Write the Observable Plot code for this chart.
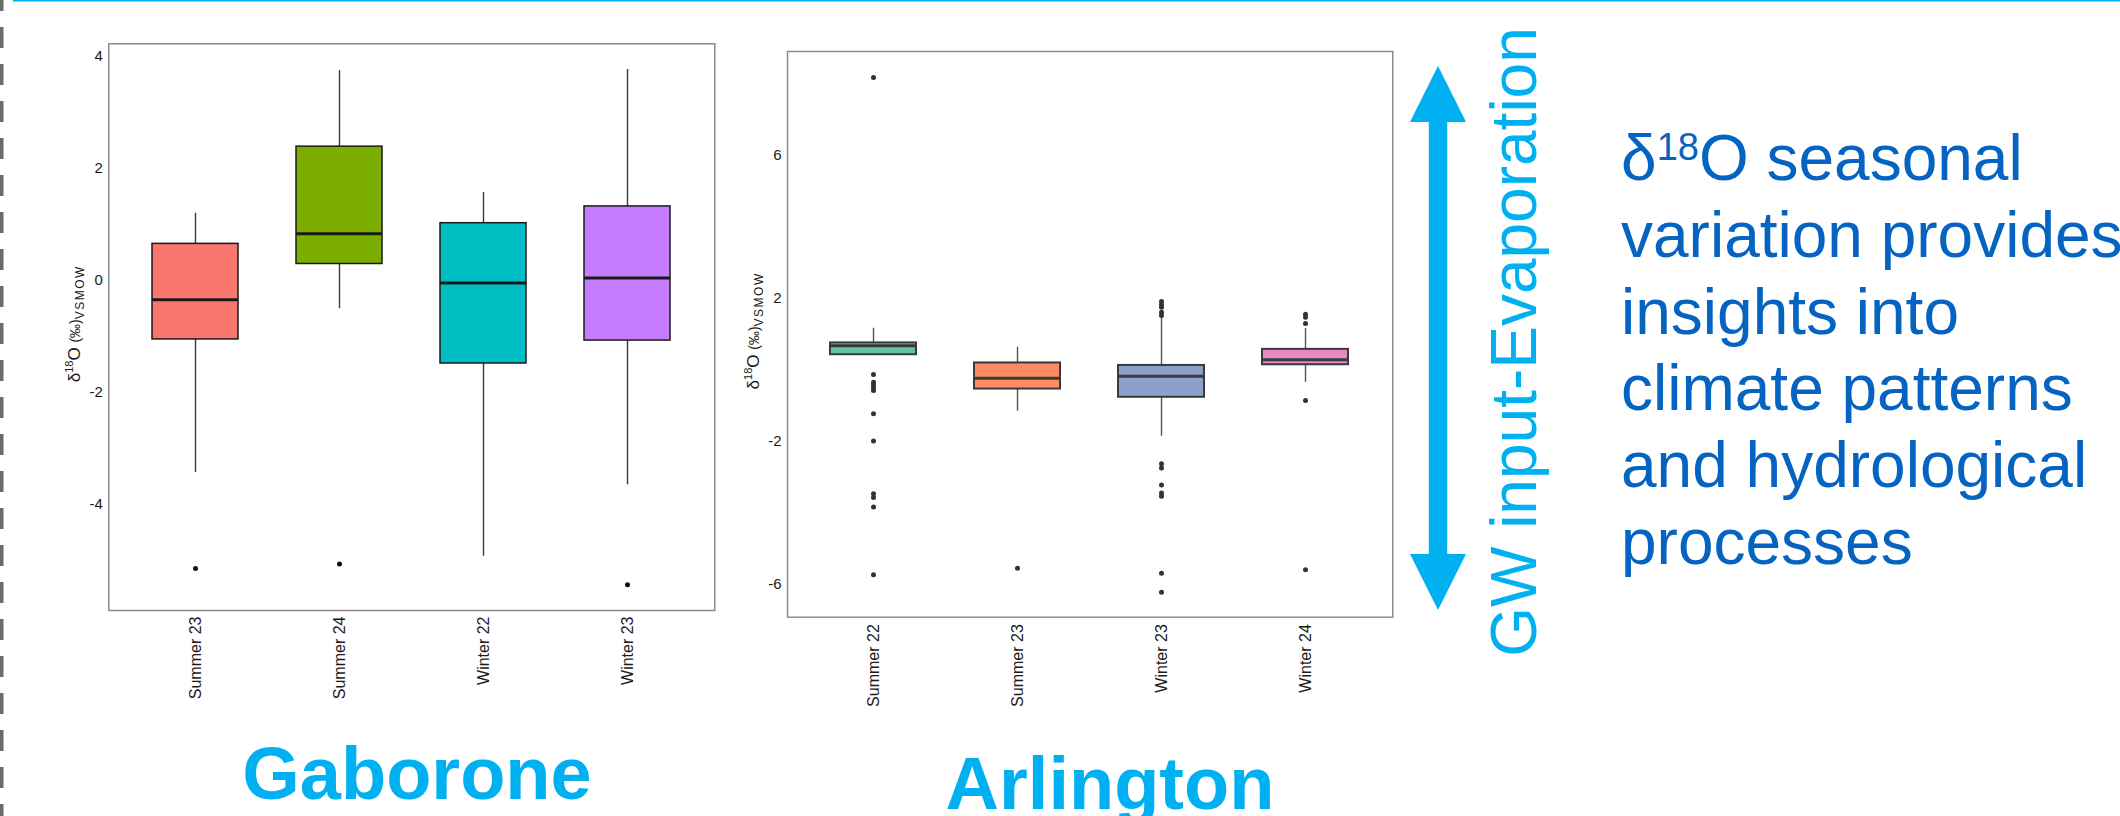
<!DOCTYPE html>
<html>
<head>
<meta charset="utf-8">
<script src="https://cdn.jsdelivr.net/npm/d3@7"></script>
<script src="https://cdn.jsdelivr.net/npm/@observablehq/plot@0.6"></script>
<style>
  html, body { margin: 0; padding: 0; background: #fff; }
  #page { position: relative; width: 2120px; height: 816px; overflow: hidden; background: #fff;
          font-family: 'Liberation Sans', Arial, Helvetica, sans-serif; }
  .panel { position: absolute; top: 0; }
  #overlay { position: absolute; left: 0; top: 0; pointer-events: none; }
</style>
</head>
<body>
<div id="page">
  <div id="gab" class="panel" style="left:0px"></div>
  <div id="arl" class="panel" style="left:730px"></div>
  <svg id="overlay" width="2120" height="816"></svg>
</div>
<script>
// ---- Gaborone: δ18O box summaries per season ----
const gabSeasons  = ["Summer 23", "Summer 24", "Winter 22", "Winter 23"];
const gabLow      = [-3.44, -0.51, -4.94, -3.66];
const gabQ1       = [-1.06,  0.29, -1.49, -1.08];
const gabMedian   = [-0.35,  0.83, -0.05,  0.04];
const gabQ3       = [ 0.65,  2.39,  1.02,  1.32];
const gabHigh     = [ 1.20,  3.75,  1.57,  3.77];
const gabOutliers = [[-5.16], [-5.08], [], [-5.45]];
const gabColors   = ["#F8766D", "#7CAE00", "#00BFC4", "#C77CFF"];
const gabTicks    = [-4, -2, 0, 2, 4];

// ---- Arlington: δ18O box summaries per season ----
const arlSeasons  = ["Summer 22", "Summer 23", "Winter 23", "Winter 24"];
const arlLow      = [ 0.41, -1.15, -1.85, -0.34];
const arlQ1       = [ 0.43, -0.53, -0.76,  0.15];
const arlMedian   = [ 0.68, -0.23, -0.17,  0.29];
const arlQ3       = [ 0.76,  0.20,  0.13,  0.58];
const arlHigh     = [ 1.17,  0.64,  1.48,  1.16];
const arlOutliers = [
  [8.18, -0.12, -0.34, -0.41, -0.49, -0.57, -1.22, -1.98, -3.46, -3.56, -3.83, -5.72],
  [-5.54],
  [1.92, 1.83, 1.76, 1.62, 1.53, -2.62, -2.74, -3.21, -3.44, -3.53, -5.68, -6.21],
  [1.56, 1.48, 1.30, -0.85, -5.58]
];
const arlColors   = ["#66C2A5", "#FC8D62", "#8DA0CB", "#E78AC3"];
const arlTicks    = [-6, -2, 2, 6];

const FONT = "'Liberation Sans', Arial, Helvetica, sans-serif";

function boxPanel(o) {
  const boxes = o.cats.map((c, i) => ({cat: c, lo: o.lo[i], q1: o.q1[i], med: o.med[i], q3: o.q3[i], hi: o.hi[i]}));
  const pts = o.cats.flatMap((c, i) => o.outliers[i].map(v => ({cat: c, v})));
  const chart = Plot.plot({
    width: o.width, height: o.height,
    marginLeft: o.ml, marginRight: o.mr, marginTop: o.mt, marginBottom: o.mb,
    style: {background: "transparent", fontFamily: FONT, color: "#1a1a1a", overflow: "visible"},
    x: {domain: o.cats, paddingInner: 0.4, paddingOuter: 0.3, label: null},
    y: {domain: o.domain, label: null},
    color: {domain: o.cats, range: o.colors},
    marks: [
      Plot.ruleX(boxes, {x: "cat", y1: "lo", y2: "hi", stroke: o.whisker, strokeWidth: 1.4}),
      Plot.barY(boxes, {x: "cat", y1: "q1", y2: "q3", fill: "cat", stroke: o.boxStroke, strokeWidth: o.boxWidth}),
      Plot.tickY(boxes, {x: "cat", y: "med", stroke: o.boxStroke, strokeWidth: 3}),
      Plot.dot(pts, {x: "cat", y: "v", r: 2.5, fill: o.dotFill, stroke: null}),
      Plot.frame({stroke: "#8c8c8c", strokeWidth: 1.5}),
      Plot.axisY({ticks: o.ticks, tickSize: 0, tickPadding: 6, fontSize: 15, tickFormat: d => String(d)}),
      Plot.axisX({tickSize: 0, tickPadding: o.xpad, tickRotate: -90, fontSize: 16})
    ]
  });
  // y-axis title: δ18O (‰)VSMOW with superscript and subscript
  const cy = (o.mt + (o.height - o.mb)) / 2 - 3;
  const t = d3.select(chart).append("text")
    .attr("transform", `translate(${o.ml - 28},${cy}) rotate(-90)`)
    .attr("text-anchor", "middle")
    .attr("font-family", FONT)
    .attr("fill", "#1a1a1a")
    .attr("font-size", 17);
  t.append("tspan").text("δ");
  t.append("tspan").attr("font-size", 11).attr("dy", -7).text("18");
  t.append("tspan").attr("dy", 7).text("O ");
  t.append("tspan").attr("font-size", 14).text("(‰)");
  t.append("tspan").attr("font-size", 12).attr("dy", 4).attr("letter-spacing", 1.5).text("VSMOW");
  return chart;
}

document.getElementById("gab").append(boxPanel({
  cats: gabSeasons, lo: gabLow, q1: gabQ1, med: gabMedian, q3: gabQ3, hi: gabHigh,
  outliers: gabOutliers, colors: gabColors, ticks: gabTicks, domain: [-5.91, 4.23],
  width: 730, height: 720, ml: 108.3, mr: 15.7, mt: 43.3, mb: 110, xpad: 6,
  whisker: "#3a3a3a", boxStroke: "#1a1a1a", boxWidth: 1.5, dotFill: "#111"
}));

document.getElementById("arl").append(boxPanel({
  cats: arlSeasons, lo: arlLow, q1: arlQ1, med: arlMedian, q3: arlQ3, hi: arlHigh,
  outliers: arlOutliers, colors: arlColors, ticks: arlTicks, domain: [-6.91, 8.91],
  width: 680, height: 720, ml: 57, mr: 17.7, mt: 51, mb: 103.3, xpad: 7,
  whisker: "#555", boxStroke: "#3a3a3a", boxWidth: 2, dotFill: "#333"
}));

// ---- page decorations and annotations ----
const ov = d3.select("#overlay");
const CYAN = "#00B0F0", BLUE = "#0563C1";

ov.append("line").attr("x1", 13).attr("x2", 2120).attr("y1", 0.8).attr("y2", 0.8)
  .attr("stroke", CYAN).attr("stroke-width", 1.6);
ov.append("line").attr("x1", 1.75).attr("x2", 1.75).attr("y1", 0).attr("y2", 816)
  .attr("stroke", "#6b6b6b").attr("stroke-width", 3.5)
  .attr("stroke-dasharray", "21 16").attr("stroke-dashoffset", 10);

// double-headed arrow
const arrowX = 1438, arrowTop = 66, arrowBot = 610, headLen = 56, headHalf = 28, shaftHalf = 9.2;
ov.append("polygon").attr("fill", CYAN).attr("points", [
  [arrowX, arrowTop], [arrowX + headHalf, arrowTop + headLen], [arrowX + shaftHalf, arrowTop + headLen],
  [arrowX + shaftHalf, arrowBot - headLen], [arrowX + headHalf, arrowBot - headLen], [arrowX, arrowBot],
  [arrowX - headHalf, arrowBot - headLen], [arrowX - shaftHalf, arrowBot - headLen],
  [arrowX - shaftHalf, arrowTop + headLen], [arrowX - headHalf, arrowTop + headLen]
].map(p => p.join(",")).join(" "));

ov.append("text").attr("transform", "translate(1536,342) rotate(-90)")
  .attr("text-anchor", "middle").attr("font-family", FONT).attr("font-size", 64)
  .attr("fill", CYAN).text("GW input-Evaporation");

// site names
ov.append("text").attr("x", 417).attr("y", 799).attr("text-anchor", "middle")
  .attr("font-family", FONT).attr("font-weight", "bold").attr("font-size", 74)
  .attr("fill", CYAN).text("Gaborone");
ov.append("text").attr("x", 1110).attr("y", 809).attr("text-anchor", "middle")
  .attr("font-family", FONT).attr("font-weight", "bold").attr("font-size", 74)
  .attr("fill", CYAN).text("Arlington");

// explanatory note
const noteLines = ["seasonal", "variation provides", "insights into", "climate patterns", "and hydrological", "processes"];
const note = ov.append("text").attr("font-family", FONT).attr("font-size", 64).attr("fill", BLUE);
const firstLine = note.append("tspan").attr("x", 1621).attr("y", 180);
firstLine.append("tspan").text("δ");
firstLine.append("tspan").attr("font-size", 38).attr("dy", -20).text("18");
firstLine.append("tspan").attr("dy", 20).text("O " + noteLines[0]);
noteLines.slice(1).forEach((line, i) => {
  note.append("tspan").attr("x", 1621).attr("y", 180 + 76.8 * (i + 1)).text(line);
});
</script>
</body>
</html>
